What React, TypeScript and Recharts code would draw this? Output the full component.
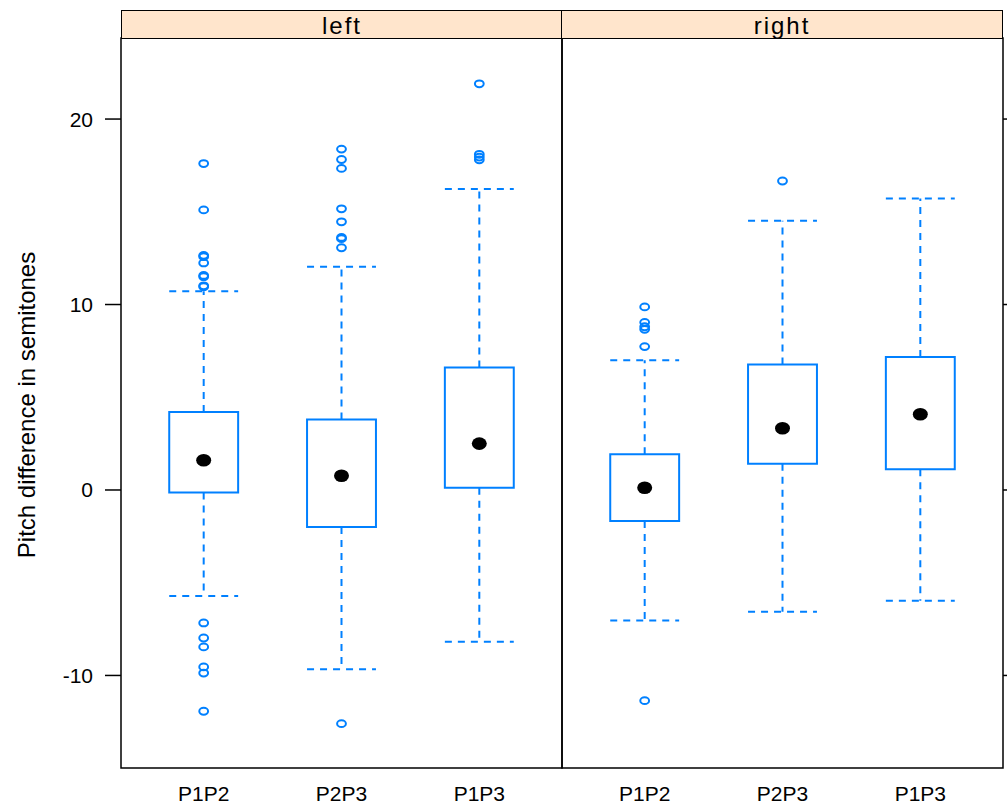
import React from 'react'
import { ComposedChart, XAxis, YAxis, Scatter, ReferenceArea, ReferenceLine } from 'recharts'

const categories = ['P1P2', 'P2P3', 'P1P3']
const yTicks = [-10, 0, 10, 20]

// left panel box stats (per category)
const leftLower = [-5.71, -9.67, -8.18]
const leftQ1 = [-0.14, -2.0, 0.12]
const leftMedian = [1.6, 0.77, 2.5]
const leftQ3 = [4.2, 3.8, 6.6]
const leftUpper = [10.71, 12.04, 16.23]
const leftOutliers = [
  [17.6, 15.1, 12.65, 12.58, 12.24, 11.57, 11.5, 11.01, 10.96, -7.17, -7.98, -8.46, -9.54, -9.87, -11.93],
  [18.38, 17.82, 17.34, 15.16, 14.46, 13.62, 13.55, 13.06, -12.6],
  [21.9, 18.1, 17.95, 17.8],
]

// right panel box stats
const rightLower = [-7.04, -6.56, -5.97]
const rightQ1 = [-1.67, 1.42, 1.12]
const rightMedian = [0.12, 3.33, 4.08]
const rightQ3 = [1.92, 6.76, 7.17]
const rightUpper = [7.0, 14.52, 15.72]
const rightOutliers = [
  [9.87, 9.04, 8.8, 8.66, 7.73, -11.36],
  [16.66],
  [],
]

const BLUE = '#0080ff'
const FONT = '"Liberation Sans", Arial, Helvetica, sans-serif'
const Y_DOMAIN: [number, number] = [-14.99, 24.37]
const X_DOMAIN: [number, number] = [0.4, 3.6]
const HALF = 0.25
const DASH = '7 6'

interface PanelStats {
  lower: number[]
  q1: number[]
  median: number[]
  q3: number[]
  upper: number[]
  outliers: number[][]
}

const OpenCircle = (props: any) => {
  if (props.cx == null || props.cy == null) return null
  return <ellipse cx={props.cx} cy={props.cy} rx={4.4} ry={3.4} fill="none" stroke={BLUE} strokeWidth={2} />
}

const MedianDot = (props: any) => {
  if (props.cx == null || props.cy == null) return null
  return <ellipse cx={props.cx} cy={props.cy} rx={7.5} ry={6.3} fill="#000" />
}

function Panel({ stats, side, left, width }: { stats: PanelStats; side: 'left' | 'right'; left: number; width: number }) {
  const medianData = categories.map((c, i) => ({ x: i + 1, y: stats.median[i] }))
  const outlierData = stats.outliers.flatMap((vals, i) => vals.map(v => ({ x: i + 1, y: v })))

  return (
    <div style={{ position: 'absolute', left, top: 0 }}>
      <ComposedChart
        width={width}
        height={807}
        margin={side === 'left' ? { top: 38, right: 4, bottom: 9, left: 0 } : { top: 38, right: 0, bottom: 9, left: 4 }}
      >
        <XAxis
          type="number"
          dataKey="x"
          domain={X_DOMAIN}
          ticks={[1, 2, 3]}
          allowDataOverflow
          interval={0}
          tickFormatter={(v: number) => categories[v - 1]}
          axisLine={false}
          tickLine={false}
          tickSize={8}
          tickMargin={10}
          height={30}
          tick={{ fill: '#000', fontSize: 21, fontFamily: FONT }}
        />
        {side === 'left' ? (
          <YAxis
            type="number"
            domain={Y_DOMAIN}
            ticks={yTicks}
            allowDataOverflow
            interval={0}
            width={121}
            axisLine={false}
            tickSize={16}
            tickMargin={12}
            tickLine={{ stroke: '#000', strokeWidth: 1.5 }}
            tick={{ fill: '#000', fontSize: 21, fontFamily: FONT }}
          />
        ) : (
          <YAxis
            type="number"
            orientation="right"
            domain={Y_DOMAIN}
            ticks={yTicks}
            allowDataOverflow
            interval={0}
            width={4}
            axisLine={false}
            tickSize={8}
            tickLine={{ stroke: '#000', strokeWidth: 1.5 }}
            tickFormatter={() => ''}
          />
        )}

        {/* panel frame */}
        <ReferenceArea
          x1={X_DOMAIN[0]}
          x2={X_DOMAIN[1]}
          y1={Y_DOMAIN[0]}
          y2={Y_DOMAIN[1]}
          fill="none"
          stroke="#000"
          strokeWidth={1.5}
          ifOverflow="visible"
        />

        {categories.map((c, i) => {
          const x = i + 1
          return (
            <React.Fragment key={c}>
              {/* upper whisker + cap */}
              <ReferenceLine segment={[{ x, y: stats.q3[i] }, { x, y: stats.upper[i] }]} stroke={BLUE} strokeWidth={2} strokeDasharray={DASH} />
              <ReferenceLine segment={[{ x: x - HALF, y: stats.upper[i] }, { x: x + HALF, y: stats.upper[i] }]} stroke={BLUE} strokeWidth={2} strokeDasharray={DASH} />
              {/* lower whisker + cap */}
              <ReferenceLine segment={[{ x, y: stats.q1[i] }, { x, y: stats.lower[i] }]} stroke={BLUE} strokeWidth={2} strokeDasharray={DASH} />
              <ReferenceLine segment={[{ x: x - HALF, y: stats.lower[i] }, { x: x + HALF, y: stats.lower[i] }]} stroke={BLUE} strokeWidth={2} strokeDasharray={DASH} />
              {/* box */}
              <ReferenceArea
                x1={x - HALF}
                x2={x + HALF}
                y1={stats.q1[i]}
                y2={stats.q3[i]}
                fill="#fff"
                fillOpacity={1}
                stroke={BLUE}
                strokeWidth={2}
              />
            </React.Fragment>
          )
        })}

        <Scatter data={outlierData} dataKey="y" isAnimationActive={false} shape={OpenCircle} />
        <Scatter data={medianData} dataKey="y" isAnimationActive={false} shape={MedianDot} />
      </ComposedChart>
    </div>
  )
}

const stripStyle: React.CSSProperties = {
  position: 'absolute',
  top: 10,
  height: 29,
  width: 442,
  boxSizing: 'border-box',
  background: '#ffe5cc',
  border: '1.5px solid #000',
  textAlign: 'center',
  fontSize: 24,
  lineHeight: '29px',
  letterSpacing: 2,
  color: '#000',
}

export default function App() {
  const leftStats: PanelStats = { lower: leftLower, q1: leftQ1, median: leftMedian, q3: leftQ3, upper: leftUpper, outliers: leftOutliers }
  const rightStats: PanelStats = { lower: rightLower, q1: rightQ1, median: rightMedian, q3: rightQ3, upper: rightUpper, outliers: rightOutliers }

  return (
    <div style={{ position: 'absolute', left: 0, top: 0, width: 1007, height: 807, background: '#fff', fontFamily: FONT, overflow: 'hidden' }}>
      <style>{`.recharts-cartesian-axis-tick text { letter-spacing: 3px; }`}</style>
      <Panel stats={leftStats} side="left" left={0} width={566} />
      <Panel stats={rightStats} side="right" left={558} width={449} />
      <div style={{ ...stripStyle, left: 121 }}>left</div>
      <div style={{ ...stripStyle, left: 561 }}>right</div>
      <div
        style={{
          position: 'absolute',
          left: 27,
          top: 405,
          transform: 'translate(-50%, -50%) rotate(-90deg)',
          whiteSpace: 'nowrap',
          fontSize: 24,
          color: '#000',
        }}
      >
        Pitch difference in semitones
      </div>
    </div>
  )
}
